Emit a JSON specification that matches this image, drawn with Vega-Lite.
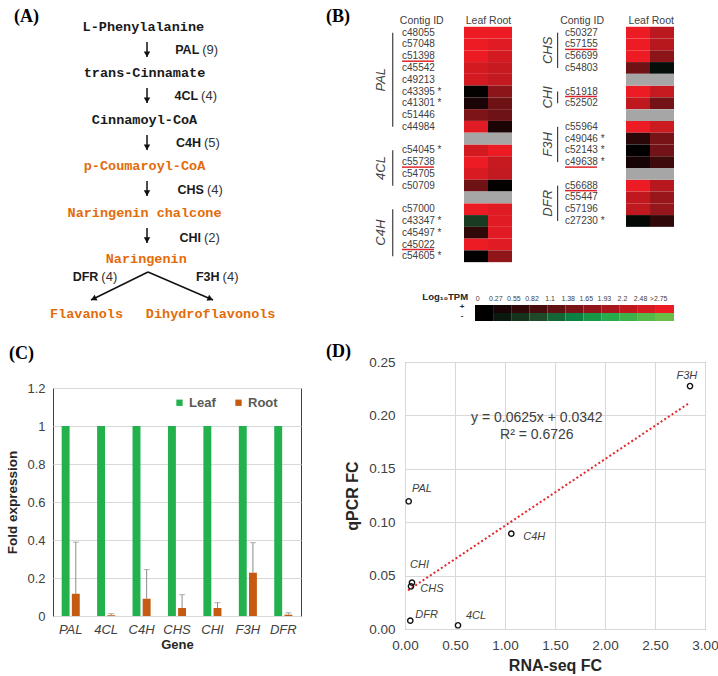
{
"$schema":"https://vega.github.io/schema/vega-lite/v6.json",
"background":"white",
"padding":{"left":5,"top":8,"right":0,"bottom":0},
"bounds":"flush",
"spacing":352,
"resolve":{"scale":{"color":"independent"}},
"config":{"view":{"stroke":null},"font":"Liberation Sans","title":{"font":"Liberation Serif","fontSize":18,"fontWeight":"bold","anchor":"start","frame":"group","offset":0,"baseline":"alphabetic","color":"#000000"}},
"datasets":{
"nodes":[{"t":"L-Phenylalanine","s":0,"l":-0.02,"k":"pre"},{"t":"trans-Cinnamate","s":0.99,"l":0,"k":"pre"},{"t":"Cinnamoyl-CoA","s":2,"l":0,"k":"pre"},{"t":"p-Coumaroyl-CoA","s":3,"l":0,"k":"flav"},{"t":"Naringenin chalcone","s":4.01,"l":0,"k":"flav"},{"t":"Naringenin","s":5,"l":0.03,"k":"flav"},{"t":"Flavanols","s":6.19,"l":-1.0,"k":"flav"},{"t":"Dihydroflavonols","s":6.19,"l":1.14,"k":"flav"}],
"enz":[{"n":"PAL","c":"(9)","s":0.5,"l":0.97},{"n":"4CL","c":"(4)","s":1.49,"l":0.95},{"n":"C4H","c":"(5)","s":2.5,"l":1.0},{"n":"CHS","c":"(4)","s":3.51,"l":1.05},{"n":"CHI","c":"(2)","s":4.54,"l":1.0},{"n":"DFR","c":"(4)","s":5.39,"l":-0.77},{"n":"F3H","c":"(4)","s":5.39,"l":1.32}],
"arrows":[{"x1":0.043,"y1":0.323,"x2":0.043,"y2":0.647,"d":"down"},{"x1":0.043,"y1":1.315,"x2":0.043,"y2":1.638,"d":"down"},{"x1":0.043,"y1":2.328,"x2":0.043,"y2":2.651,"d":"down"},{"x1":0.043,"y1":3.319,"x2":0.043,"y2":3.642,"d":"down"},{"x1":0.043,"y1":4.332,"x2":0.043,"y2":4.655,"d":"down"},{"x1":0.06,"y1":5.28,"x2":-0.922,"y2":5.884,"d":"left"},{"x1":0.06,"y1":5.28,"x2":1.181,"y2":5.884,"d":"right"}],
"heat":[
{"b":"L","row":0,"id":"c48055","leaf":2.75,"root":2.75},
{"b":"L","row":1,"id":"c57048","leaf":2.75,"root":2.6},
{"b":"L","row":2,"id":"c51398","leaf":2.75,"root":2.45,"u":true},
{"b":"L","row":3,"id":"c45542","leaf":2.45,"root":2.3},
{"b":"L","row":4,"id":"c49213","leaf":2.45,"root":2.25},
{"b":"L","row":5,"id":"c43395 *","leaf":0.05,"root":1.6},
{"b":"L","row":6,"id":"c41301 *","leaf":0.3,"root":1.25},
{"b":"L","row":7,"id":"c51446","leaf":1.4,"root":1.25},
{"b":"L","row":8,"id":"c44984","leaf":2.6,"root":0.3},
{"b":"L","row":9,"gap":true},
{"b":"L","row":10,"id":"c54045 *","leaf":2.45,"root":2.75},
{"b":"L","row":11,"id":"c55738","leaf":2.75,"root":2.3,"u":true},
{"b":"L","row":12,"id":"c54705","leaf":2.5,"root":2.25},
{"b":"L","row":13,"id":"c50709","leaf":1.25,"root":0.05},
{"b":"L","row":14,"gap":true},
{"b":"L","row":15,"id":"c57000","leaf":2.75,"root":2.6},
{"b":"L","row":16,"id":"c43347 *","leaf":-0.65,"root":2.6},
{"b":"L","row":17,"id":"c45497 *","leaf":0.55,"root":2.6},
{"b":"L","row":18,"id":"c45022","leaf":2.75,"root":2.6,"u":true},
{"b":"L","row":19,"id":"c54605 *","leaf":0.02,"root":1.65},
{"b":"R","row":0,"id":"c50327","leaf":2.75,"root":2.15},
{"b":"R","row":1,"id":"c57155","leaf":2.75,"root":2.1,"u":true},
{"b":"R","row":2,"id":"c56699","leaf":2.75,"root":1.6},
{"b":"R","row":3,"id":"c54803","leaf":1.25,"root":-0.15},
{"b":"R","row":4,"gap":true},
{"b":"R","row":5,"id":"c51918","leaf":2.75,"root":2.3,"u":true},
{"b":"R","row":6,"id":"c52502","leaf":2.2,"root":1.3},
{"b":"R","row":7,"gap":true},
{"b":"R","row":8,"id":"c55964","leaf":2.75,"root":2.35},
{"b":"R","row":9,"id":"c49046 *","leaf":0.5,"root":1.35},
{"b":"R","row":10,"id":"c52143 *","leaf":0.02,"root":1.3},
{"b":"R","row":11,"id":"c49638 *","leaf":0.25,"root":0.7,"u":true},
{"b":"R","row":12,"gap":true},
{"b":"R","row":13,"id":"c56688","leaf":2.75,"root":2.1,"u":true},
{"b":"R","row":14,"id":"c55447","leaf":2.2,"root":1.75},
{"b":"R","row":15,"id":"c57196","leaf":2.2,"root":1.7},
{"b":"R","row":16,"id":"c27230 *","leaf":-0.1,"root":0.55}],
"groups":[{"b":"L","g":"PAL","r0":0,"r1":8,"m":4,"e":false},{"b":"L","g":"4CL","r0":10,"r1":13,"m":11,"e":true},{"b":"L","g":"C4H","r0":15,"r1":19,"m":17,"e":false},{"b":"R","g":"CHS","r0":0,"r1":3,"m":1,"e":true},{"b":"R","g":"CHI","r0":5,"r1":6,"m":5,"e":true},{"b":"R","g":"F3H","r0":8,"r1":11,"m":9,"e":true},{"b":"R","g":"DFR","r0":13,"r1":16,"m":14,"e":true}],
"leg":[{"lab":"0","p":0,"n":0},{"lab":"0.27","p":0.27,"n":-0.27},{"lab":"0.55","p":0.55,"n":-0.55},{"lab":"0.82","p":0.82,"n":-0.82},{"lab":"1.1","p":1.1,"n":-1.1},{"lab":"1.38","p":1.38,"n":-1.38},{"lab":"1.65","p":1.65,"n":-1.65},{"lab":"1.93","p":1.93,"n":-1.93},{"lab":"2.2","p":2.2,"n":-2.2},{"lab":"2.48","p":2.48,"n":-2.48},{"lab":">2.75","p":2.75,"n":-2.75}],
"bars":[{"gene":"PAL","tissue":"Leaf","v":1},{"gene":"PAL","tissue":"Root","v":0.117,"up":0.389},{"gene":"4CL","tissue":"Leaf","v":1},{"gene":"4CL","tissue":"Root","v":0.004,"up":0.012},{"gene":"C4H","tissue":"Leaf","v":1},{"gene":"C4H","tissue":"Root","v":0.091,"up":0.244},{"gene":"CHS","tissue":"Leaf","v":1},{"gene":"CHS","tissue":"Root","v":0.042,"up":0.112},{"gene":"CHI","tissue":"Leaf","v":1},{"gene":"CHI","tissue":"Root","v":0.042,"up":0.07},{"gene":"F3H","tissue":"Leaf","v":1},{"gene":"F3H","tissue":"Root","v":0.228,"up":0.386},{"gene":"DFR","tissue":"Leaf","v":1},{"gene":"DFR","tissue":"Root","v":0.007,"up":0.017}],
"pts":[{"gene":"PAL","rna":0.037,"qpcr":0.1196},{"gene":"4CL","rna":0.53,"qpcr":0.0035},{"gene":"C4H","rna":1.063,"qpcr":0.0893},{"gene":"CHS","rna":0.06,"qpcr":0.040},{"gene":"CHI","rna":0.07,"qpcr":0.0434},{"gene":"F3H","rna":2.85,"qpcr":0.2275},{"gene":"DFR","rna":0.053,"qpcr":0.0078}]
},
"hconcat":[
{"vconcat":[
{
"width":248,"height":332,
"title":{"text":"(A)","dx":-39,"dy":15},
"layer":[
{"data":{"name":"arrows"},"mark":{"type":"rule","strokeWidth":1.5,"color":"#111111"},
"encoding":{"x":{"field":"x1","type":"quantitative","scale":{"domain":[-1.578,2.698],"nice":false,"zero":false},"axis":null},
"y":{"field":"y1","type":"quantitative","scale":{"domain":[-0.2586,6.897],"reverse":true,"nice":false,"zero":false},"axis":null},
"x2":{"field":"x2"},"y2":{"field":"y2"}}},
{"data":{"name":"arrows"},"transform":[{"filter":"datum.d == 'down'"}],"mark":{"type":"point","shape":"triangle-down","filled":true,"size":42,"color":"#111111","opacity":1,"yOffset":-2.8},
"encoding":{"x":{"field":"x2","type":"quantitative"},"y":{"field":"y2","type":"quantitative"}}},
{"data":{"name":"arrows"},"transform":[{"filter":"datum.d == 'left'"}],"mark":{"type":"point","shape":"triangle-down","filled":true,"size":42,"color":"#111111","opacity":1,"angle":63.8,"xOffset":2.5,"yOffset":-1.2},
"encoding":{"x":{"field":"x2","type":"quantitative"},"y":{"field":"y2","type":"quantitative"}}},
{"data":{"name":"arrows"},"transform":[{"filter":"datum.d == 'right'"}],"mark":{"type":"point","shape":"triangle-down","filled":true,"size":42,"color":"#111111","opacity":1,"angle":293.3,"xOffset":-2.6,"yOffset":-1.1},
"encoding":{"x":{"field":"x2","type":"quantitative"},"y":{"field":"y2","type":"quantitative"}}},
{"data":{"name":"nodes"},"mark":{"type":"text","font":"Liberation Mono","fontWeight":"bold","fontSize":13.5,"baseline":"middle","align":"center"},
"encoding":{"x":{"field":"l","type":"quantitative"},"y":{"field":"s","type":"quantitative"},"text":{"field":"t"},"color":{"field":"k","type":"nominal","scale":{"domain":["pre","flav"],"range":["#1a1a1a","#e36c0a"]},"legend":null}}},
{"data":{"name":"enz"},"mark":{"type":"text","fontWeight":"bold","fontSize":12.5,"baseline":"middle","align":"right","dx":-1.5,"color":"#1a1a1a"},
"encoding":{"x":{"field":"l","type":"quantitative"},"y":{"field":"s","type":"quantitative"},"text":{"field":"n"}}},
{"data":{"name":"enz"},"mark":{"type":"text","fontSize":13,"baseline":"middle","align":"left","dx":1.5,"color":"#333333"},
"encoding":{"x":{"field":"l","type":"quantitative"},"y":{"field":"s","type":"quantitative"},"text":{"field":"c"}}}
]
},
{
"width":248,"height":228,
"title":{"text":"(C)","dx":-44,"dy":-15.5},
"view":{"stroke":"#404040"},
"data":{"name":"bars"},
"encoding":{
"x":{"field":"gene","type":"nominal","sort":["PAL","4CL","C4H","CHS","CHI","F3H","DFR"],"scale":{"paddingInner":0.49,"paddingOuter":0.245},
"axis":{"title":"Gene","labelAngle":0,"labelFontStyle":"italic","labelFontSize":13,"labelColor":"#404040","ticks":false,"domain":false,"labelPadding":7,"titleFontSize":13,"titleFontWeight":"bold","titleColor":"#262626","titlePadding":2}},
"xOffset":{"field":"tissue","type":"nominal","scale":{"domain":["Leaf","Root"],"paddingInner":0.22}}
},
"layer":[
{"mark":{"type":"bar"},
"encoding":{"y":{"field":"v","type":"quantitative","title":"Fold expression","scale":{"domain":[0,1.2],"nice":false},
"axis":{"values":[0,0.2,0.4,0.6,0.8,1,1.2],"format":"~g","grid":true,"gridColor":"#d9d9d9","ticks":false,"domain":false,"labelFlush":false,"labelOverlap":false,"labelFontSize":13,"labelColor":"#404040","labelPadding":8,"titleFontSize":13.5,"titleFontWeight":"bold","titleColor":"#262626","titlePadding":7}},
"color":{"field":"tissue","type":"nominal","scale":{"domain":["Leaf","Root"],"range":["#22b14c","#c55a11"]},
"legend":{"orient":"none","legendX":120,"legendY":8,"direction":"horizontal","title":null,"symbolType":"square","symbolSize":40,"symbolStrokeWidth":0,"labelFontSize":13,"labelFontWeight":"bold","labelColor":"#595959","columnPadding":16,"labelOffset":3,"padding":0}}}},
{"transform":[{"filter":"datum.tissue == 'Root'"}],"mark":{"type":"rule","color":"#8c8c8c","strokeWidth":1},
"encoding":{"y":{"field":"v","type":"quantitative","title":"Fold expression",
"axis":{"values":[0,0.2,0.4,0.6,0.8,1,1.2],"format":"~g","grid":true,"gridColor":"#d9d9d9","ticks":false,"domain":false,"labelFlush":false,"labelOverlap":false,"labelFontSize":13,"labelColor":"#404040","labelPadding":8,"titleFontSize":13.5,"titleFontWeight":"bold","titleColor":"#262626","titlePadding":7}},"y2":{"field":"up"}}},
{"transform":[{"filter":"datum.tissue == 'Root'"}],"mark":{"type":"tick","color":"#8c8c8c","size":6,"thickness":1},
"encoding":{"y":{"field":"up","type":"quantitative","title":"Fold expression",
"axis":{"values":[0,0.2,0.4,0.6,0.8,1,1.2],"format":"~g","grid":true,"gridColor":"#d9d9d9","ticks":false,"domain":false,"labelFlush":false,"labelOverlap":false,"labelFontSize":13,"labelColor":"#404040","labelPadding":8,"titleFontSize":13.5,"titleFontWeight":"bold","titleColor":"#262626","titlePadding":7}}}}
]
}
],"spacing":41,"bounds":"flush","resolve":{"scale":{"color":"independent"}}},
{"vconcat":[
{
"width":269,"height":306,
"title":{"text":"(B)","dx":-79,"dy":15},
"layer":[
{"data":{"name":"heat"},
"layer":[
{"transform":[{"filter":"datum.b == 'L' && !datum.gap"}],"mark":{"type":"rect"},
"encoding":{"x":{"datum":0,"type":"quantitative","scale":{"domain":[-2.4583,8.75],"nice":false,"zero":false},"axis":null},"x2":{"datum":1},
"y":{"field":"row","type":"ordinal","scale":{"type":"band","domain":[-1,0,1,2,3,4,5,6,7,8,9,10,11,12,13,14,15,16,17,18,19,20,21,22,23,24],"paddingInner":0,"paddingOuter":0},"axis":null},
"color":{"field":"leaf","type":"quantitative","scale":{"domain":[-2.75,-1.93,-1.38,-0.82,0,1.38,2.75],"range":["#6cbd45","#25ad4b","#0b8243","#1e4a2a","#000000","#7a1418","#ed1c24"],"clamp":true,"interpolate":"rgb"},"legend":null}}},
{"transform":[{"filter":"datum.b == 'L' && !datum.gap"}],"mark":{"type":"rect"},
"encoding":{"x":{"datum":1,"type":"quantitative"},"x2":{"datum":2},"y":{"field":"row","type":"ordinal"},"color":{"field":"root","type":"quantitative","legend":null}}},
{"transform":[{"filter":"datum.b == 'R' && !datum.gap"}],"mark":{"type":"rect"},
"encoding":{"x":{"datum":6.75,"type":"quantitative"},"x2":{"datum":7.75},"y":{"field":"row","type":"ordinal"},"color":{"field":"leaf","type":"quantitative","legend":null}}},
{"transform":[{"filter":"datum.b == 'R' && !datum.gap"}],"mark":{"type":"rect"},
"encoding":{"x":{"datum":7.75,"type":"quantitative"},"x2":{"datum":8.75},"y":{"field":"row","type":"ordinal"},"color":{"field":"root","type":"quantitative","legend":null}}},
{"transform":[{"filter":"datum.b == 'L' && datum.gap"}],"mark":{"type":"rect","color":"#a6a6a6"},
"encoding":{"x":{"datum":0,"type":"quantitative"},"x2":{"datum":2},"y":{"field":"row","type":"ordinal"}}},
{"transform":[{"filter":"datum.b == 'R' && datum.gap"}],"mark":{"type":"rect","color":"#a6a6a6"},
"encoding":{"x":{"datum":6.75,"type":"quantitative"},"x2":{"datum":8.75},"y":{"field":"row","type":"ordinal"}}},
{"transform":[{"filter":"datum.b == 'L' && !datum.gap"}],"mark":{"type":"text","align":"left","baseline":"middle","fontSize":10,"color":"#404040"},
"encoding":{"x":{"datum":-2.583,"type":"quantitative"},"y":{"field":"row","type":"ordinal"},"text":{"field":"id"}}},
{"transform":[{"filter":"datum.b == 'R' && !datum.gap"}],"mark":{"type":"text","align":"left","baseline":"middle","fontSize":10,"color":"#404040"},
"encoding":{"x":{"datum":4.21,"type":"quantitative"},"y":{"field":"row","type":"ordinal"},"text":{"field":"id"}}},
{"transform":[{"filter":"datum.b == 'L' && datum.u"}],"mark":{"type":"rule","color":"#e0262c","strokeWidth":1.5,"yOffset":5},
"encoding":{"x":{"datum":-2.583,"type":"quantitative"},"x2":{"datum":-1.25},"y":{"field":"row","type":"ordinal"}}},
{"transform":[{"filter":"datum.b == 'R' && datum.u"}],"mark":{"type":"rule","color":"#e0262c","strokeWidth":1.5,"yOffset":5},
"encoding":{"x":{"datum":4.21,"type":"quantitative"},"x2":{"datum":5.54},"y":{"field":"row","type":"ordinal"}}},
{"data":{"values":[{}]},"mark":{"type":"text","baseline":"middle","fontSize":10.5,"color":"#404040"},
"encoding":{"x":{"datum":-1.76,"type":"quantitative"},"y":{"datum":-1,"type":"ordinal"},"text":{"value":"Contig ID"}}},
{"data":{"values":[{}]},"mark":{"type":"text","baseline":"middle","fontSize":10.5,"color":"#404040"},
"encoding":{"x":{"datum":4.92,"type":"quantitative"},"y":{"datum":-1,"type":"ordinal"},"text":{"value":"Contig ID"}}},
{"data":{"values":[{}]},"mark":{"type":"text","baseline":"middle","fontSize":10.5,"color":"#404040"},
"encoding":{"x":{"datum":1.02,"type":"quantitative"},"y":{"datum":-1,"type":"ordinal"},"text":{"value":"Leaf Root"}}},
{"data":{"values":[{}]},"mark":{"type":"text","baseline":"middle","fontSize":10.5,"color":"#404040"},
"encoding":{"x":{"datum":7.8,"type":"quantitative"},"y":{"datum":-1,"type":"ordinal"},"text":{"value":"Leaf Root"}}},
{"data":{"name":"groups"},"transform":[{"filter":"datum.b == 'L'"}],"mark":{"type":"rule","color":"#404040","strokeWidth":1.2},
"encoding":{"x":{"datum":-2.97,"type":"quantitative"},"y":{"field":"r0","type":"ordinal"},"y2":{"field":"r1"}}},
{"data":{"name":"groups"},"transform":[{"filter":"datum.b == 'R'"}],"mark":{"type":"rule","color":"#404040","strokeWidth":1.2},
"encoding":{"x":{"datum":3.9,"type":"quantitative"},"y":{"field":"r0","type":"ordinal"},"y2":{"field":"r1"}}},
{"data":{"name":"groups"},"transform":[{"filter":"datum.b == 'L' && !datum.e"}],"mark":{"type":"text","angle":270,"baseline":"middle","align":"center","fontSize":13,"fontStyle":"italic","color":"#404040"},
"encoding":{"x":{"datum":-3.44,"type":"quantitative"},"y":{"field":"m","type":"ordinal"},"text":{"field":"g"}}},
{"data":{"name":"groups"},"transform":[{"filter":"datum.b == 'L' && datum.e"}],"mark":{"type":"text","angle":270,"baseline":"middle","align":"center","fontSize":13,"fontStyle":"italic","color":"#404040"},
"encoding":{"x":{"datum":-3.44,"type":"quantitative"},"y":{"field":"m","type":"ordinal","bandPosition":1},"text":{"field":"g"}}},
{"data":{"name":"groups"},"transform":[{"filter":"datum.b == 'R'"}],"mark":{"type":"text","angle":270,"baseline":"middle","align":"center","fontSize":13,"fontStyle":"italic","color":"#404040"},
"encoding":{"x":{"datum":3.52,"type":"quantitative"},"y":{"field":"m","type":"ordinal","bandPosition":1},"text":{"field":"g"}}}
]},
{"data":{"name":"leg"},
"layer":[
{"mark":{"type":"rect"},
"encoding":{"x":{"field":"lab","type":"nominal","sort":null,"scale":{"type":"band","domain":["d1","d2","0","0.27","0.55","0.82","1.1","1.38","1.65","1.93","2.2","2.48",">2.75"],"paddingInner":0,"paddingOuter":0.935,"align":1},"axis":null},
"y":{"datum":23.64,"type":"quantitative","scale":{"domain":[-1,25],"reverse":true,"nice":false,"zero":false},"axis":null},"y2":{"datum":24.32},
"color":{"field":"p","type":"quantitative","scale":{"domain":[-2.75,-1.93,-1.38,-0.82,0,1.38,2.75],"range":["#6cbd45","#25ad4b","#0b8243","#1e4a2a","#000000","#7a1418","#ed1c24"],"clamp":true,"interpolate":"rgb"},"legend":null}}},
{"mark":{"type":"rect"},
"encoding":{"x":{"field":"lab","type":"nominal","sort":null},"y":{"datum":24.32,"type":"quantitative"},"y2":{"datum":25},"color":{"field":"n","type":"quantitative","legend":null}}},
{"mark":{"type":"text","fontSize":7,"color":"#404040","baseline":"middle","dx":-6.3},
"encoding":{"x":{"field":"lab","type":"nominal","sort":null},"y":{"datum":23.09,"type":"quantitative"},"text":{"field":"lab"}}},
{"data":{"values":[{}]},"mark":{"type":"text","fontSize":8,"fontWeight":"bold","color":"#262626","baseline":"middle","dx":-22},
"encoding":{"x":{"datum":"0","type":"nominal"},"y":{"datum":23.84,"type":"quantitative"},"text":{"value":"+"}}},
{"data":{"values":[{}]},"mark":{"type":"text","fontSize":8,"fontWeight":"bold","color":"#262626","baseline":"middle","dx":-22},
"encoding":{"x":{"datum":"0","type":"nominal"},"y":{"datum":24.57,"type":"quantitative"},"text":{"value":"-"}}},
{"data":{"values":[{}]},"mark":{"type":"text","fontSize":9.5,"fontWeight":"bold","color":"#262626","baseline":"middle","align":"right","dx":-16},
"encoding":{"x":{"datum":"0","type":"nominal"},"y":{"datum":22.93,"type":"quantitative"},"text":{"value":"Log₁₀TPM"}}}
]}
],
"resolve":{"scale":{"x":"independent","y":"independent"}}
},
{
"width":300,"height":267,
"title":{"text":"(D)","dx":-79,"dy":10},
"view":{"stroke":"#404040"},
"data":{"name":"pts"},
"layer":[
{"transform":[{"regression":"qpcr","on":"rna","extent":[0.03,2.84]}],"mark":{"type":"line","color":"#e3262c","strokeWidth":2,"strokeDash":[2,2.4]},
"encoding":{"x":{"field":"rna","type":"quantitative","scale":{"domain":[0,3],"nice":false,"zero":false},
"axis":{"title":"RNA-seq FC","values":[0,0.5,1,1.5,2,2.5,3],"format":".2f","grid":true,"gridColor":"#d9d9d9","ticks":false,"domain":false,"labelFlush":false,"labelOverlap":false,"labelFontSize":13.5,"labelColor":"#404040","labelPadding":9,"titleFontSize":16,"titleFontWeight":"bold","titleColor":"#262626","titlePadding":6}},
"y":{"field":"qpcr","type":"quantitative","scale":{"domain":[0,0.25],"nice":false},
"axis":{"title":"qPCR FC","values":[0,0.05,0.1,0.15,0.2,0.25],"format":".2f","grid":true,"gridColor":"#d9d9d9","ticks":false,"domain":false,"labelFlush":false,"labelOverlap":false,"labelFontSize":13.5,"labelColor":"#404040","labelPadding":10,"titleFontSize":16,"titleFontWeight":"bold","titleColor":"#262626","titlePadding":8}}}},
{"mark":{"type":"point","filled":false,"color":"#111111","size":28,"strokeWidth":1.4,"opacity":1},
"encoding":{"x":{"field":"rna","type":"quantitative"},"y":{"field":"qpcr","type":"quantitative"}}},
{"transform":[{"filter":"datum.gene == 'PAL'"}],"mark":{"type":"text","align":"left","baseline":"middle","fontSize":11,"fontStyle":"italic","color":"#404040","dx":3.3,"dy":-12},
"encoding":{"x":{"field":"rna","type":"quantitative"},"y":{"field":"qpcr","type":"quantitative"},"text":{"field":"gene"}}},
{"transform":[{"filter":"datum.gene == '4CL'"}],"mark":{"type":"text","align":"left","baseline":"middle","fontSize":11,"fontStyle":"italic","color":"#404040","dx":8,"dy":-9},
"encoding":{"x":{"field":"rna","type":"quantitative"},"y":{"field":"qpcr","type":"quantitative"},"text":{"field":"gene"}}},
{"transform":[{"filter":"datum.gene == 'C4H'"}],"mark":{"type":"text","align":"left","baseline":"middle","fontSize":11,"fontStyle":"italic","color":"#404040","dx":12,"dy":3.3},
"encoding":{"x":{"field":"rna","type":"quantitative"},"y":{"field":"qpcr","type":"quantitative"},"text":{"field":"gene"}}},
{"transform":[{"filter":"datum.gene == 'CHS'"}],"mark":{"type":"text","align":"left","baseline":"middle","fontSize":11,"fontStyle":"italic","color":"#404040","dx":9.3,"dy":3},
"encoding":{"x":{"field":"rna","type":"quantitative"},"y":{"field":"qpcr","type":"quantitative"},"text":{"field":"gene"}}},
{"transform":[{"filter":"datum.gene == 'CHI'"}],"mark":{"type":"text","align":"left","baseline":"middle","fontSize":11,"fontStyle":"italic","color":"#404040","dx":-2,"dy":-17.4},
"encoding":{"x":{"field":"rna","type":"quantitative"},"y":{"field":"qpcr","type":"quantitative"},"text":{"field":"gene"}}},
{"transform":[{"filter":"datum.gene == 'F3H'"}],"mark":{"type":"text","align":"center","baseline":"middle","fontSize":11,"fontStyle":"italic","color":"#404040","dx":-3.2,"dy":-9.7},
"encoding":{"x":{"field":"rna","type":"quantitative"},"y":{"field":"qpcr","type":"quantitative"},"text":{"field":"gene"}}},
{"transform":[{"filter":"datum.gene == 'DFR'"}],"mark":{"type":"text","align":"left","baseline":"middle","fontSize":11,"fontStyle":"italic","color":"#404040","dx":5,"dy":-6},
"encoding":{"x":{"field":"rna","type":"quantitative"},"y":{"field":"qpcr","type":"quantitative"},"text":{"field":"gene"}}},
{"data":{"values":[{}]},"mark":{"type":"text","align":"center","baseline":"middle","fontSize":14,"color":"#404040","lineHeight":17},
"encoding":{"x":{"datum":1.318,"type":"quantitative"},"y":{"datum":0.1971,"type":"quantitative"},"text":{"value":["y = 0.0625x + 0.0342","R² = 0.6726"]}}}
]
}
],"spacing":41,"bounds":"flush","resolve":{"scale":{"color":"independent"}}}
]
}
